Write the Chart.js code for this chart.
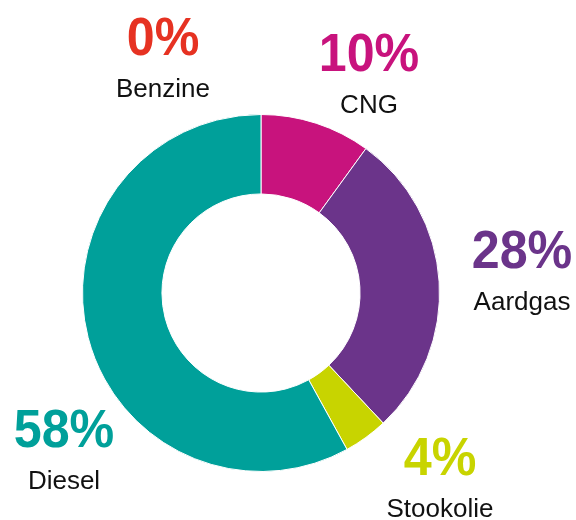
<!DOCTYPE html>
<html lang="nl">
<head>
<meta charset="UTF-8">
<title>Brandstof</title>
<script src="https://cdn.jsdelivr.net/npm/chart.js"></script>
<style>
  body { margin: 0; background: #fff; }
  canvas { display: block; }
</style>
</head>
<body>
<canvas id="donut" width="576" height="520"></canvas>
<script>
// data
const categories = ['CNG', 'Aardgas', 'Stookolie', 'Diesel', 'Benzine'];
const shares = [10, 28, 4, 58, 0];
const colours = ['#c8137d', '#6b348a', '#c8d400', '#00a09a', '#e63222'];

// where each label block goes (center x, baseline of the percentage)
const labelSpots = {
  'CNG': [369, 71],
  'Aardgas': [522, 268],
  'Stookolie': [440, 475],
  'Diesel': [64, 447],
  'Benzine': [163, 55]
};

const labelPlugin = {
  id: 'pctLabels',
  afterDraw(chart) {
    const ctx = chart.ctx;
    ctx.save();
    ctx.textAlign = 'center';
    ctx.textBaseline = 'alphabetic';
    categories.forEach((name, i) => {
      const [x, y] = labelSpots[name];
      ctx.save();
      ctx.translate(x, y);
      ctx.scale(0.93, 1);
      ctx.fillStyle = colours[i];
      ctx.font = 'bold 54px "Liberation Sans", Arial, sans-serif';
      ctx.fillText(shares[i] + '%', 0, 0);
      ctx.restore();
      ctx.fillStyle = '#111';
      ctx.font = '26px "Liberation Sans", Arial, sans-serif';
      ctx.fillText(name, x, y + 42);
    });
    ctx.restore();
  }
};

new Chart(document.getElementById('donut'), {
  type: 'doughnut',
  data: {
    labels: categories,
    datasets: [{
      data: shares,
      backgroundColor: colours,
      borderColor: '#ffffff',
      borderWidth: 1
    }]
  },
  options: {
    responsive: false,
    animation: false,
    cutout: '55.5%',
    layout: { padding: { left: 82, right: 136, top: 114, bottom: 48 } },
    plugins: {
      legend: { display: false },
      tooltip: { enabled: false }
    }
  },
  plugins: [labelPlugin]
});
</script>
</body>
</html>
